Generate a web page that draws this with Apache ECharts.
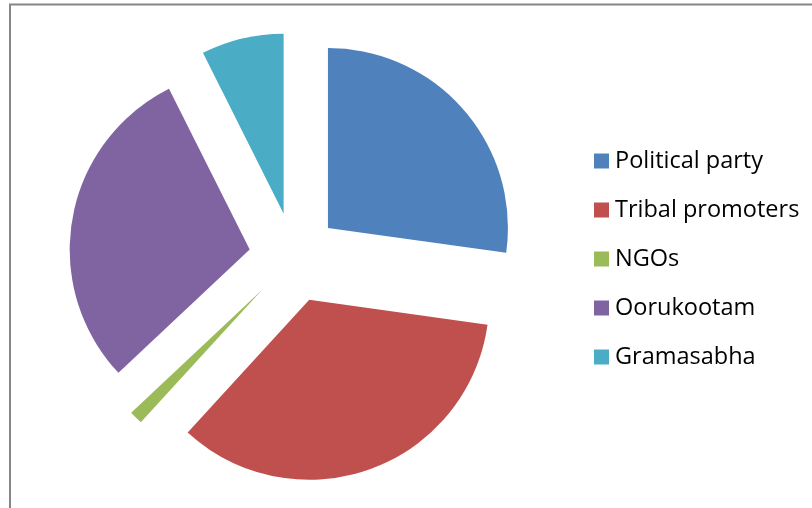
<!DOCTYPE html>
<html>
<head>
<meta charset="utf-8">
<style>
  html, body { margin: 0; padding: 0; background: #fff; }
  #chart { width: 812px; height: 508px; }
</style>
<script src="https://cdn.jsdelivr.net/npm/echarts@6/dist/echarts.min.js"></script>
</head>
<body>
<div id="chart"></div>
<script>
// Share of each agency (percent)
const categories = ['Political party', 'Tribal promoters', 'NGOs', 'Oorukootam', 'Gramasabha'];
const shares = [27.2, 34.6, 1.2, 29.6, 7.4];
const palette = ['#4F81BD', '#C0504D', '#9BBB59', '#8064A2', '#4BACC6'];

const chart = echarts.init(document.getElementById('chart'), null, { renderer: 'canvas' });

chart.setOption({
  animation: false,
  color: palette,
  graphic: [{
    type: 'rect',
    shape: { x: 10, y: 4.5, width: 900, height: 600 },
    style: { fill: 'none', stroke: '#868686', lineWidth: 2 },
    silent: true,
    z: -1
  }],
  legend: {
    orient: 'vertical',
    left: 594,
    top: 149,
    padding: 0,
    itemWidth: 15,
    itemHeight: 15,
    itemGap: 25,
    icon: 'rect',
    selectedMode: false,
    textStyle: { fontFamily: 'Open Sans', fontSize: 23.5, lineHeight: 23, color: '#000', padding: [0, 0, 0, 1] },
    data: categories
  },
  series: [{
    type: 'pie',
    center: [294, 257.5],
    radius: 180,
    startAngle: 90,
    clockwise: true,
    selectedMode: 'multiple',
    selectedOffset: 45,
    label: { show: false },
    labelLine: { show: false },
    emphasis: { disabled: true },
    itemStyle: { borderWidth: 0 },
    data: categories.map((name, i) => ({ name, value: shares[i], selected: true }))
  }]
});
</script>
</body>
</html>
